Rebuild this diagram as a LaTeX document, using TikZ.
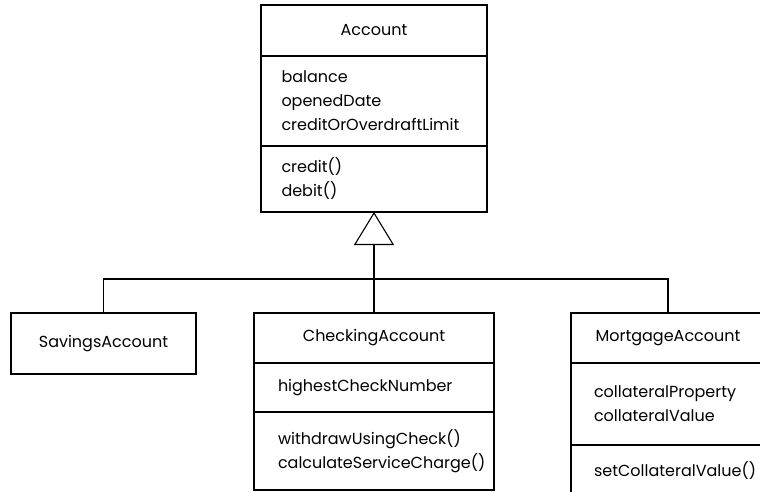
\documentclass[tikz,border=0pt]{standalone}
\usepackage{fontspec}
\setmainfont{Poppins}
\usetikzlibrary{arrows.meta,positioning}

\begin{document}
\begin{tikzpicture}[x=1pt,y=-1pt,line width=1.1pt,
	box/.style={draw, outer sep=0pt, anchor=north west, font=\fontsize{16}{24}\selectfont},
	cname/.style={box, align=center, inner xsep=0pt},
	cpart/.style={box, align=left}]
	\useasboundingbox (0,0) rectangle (760,492);
	\clip (0,0) rectangle (760,492);

	% base class
	\node[cname, text width=226pt, minimum height=51pt] (account) at (261,5) {Account};
	\node[cpart, text width=185pt, inner xsep=20.5pt, minimum height=90pt] (accountattr) at (account.south west) {balance\\openedDate\\creditOrOverdraftLimit};
	\node[cpart, text width=185pt, inner xsep=20.5pt, minimum height=66pt] (accountop) at (accountattr.south west) {credit()\\debit()};

	% subclasses
	\node[cname, text width=185pt, minimum height=61pt] (savings) at (11,313) {SavingsAccount};

	\node[cname, text width=240pt, minimum height=50pt] (checking) at (254,313) {CheckingAccount};
	\node[cpart, text width=192pt, inner xsep=24pt, minimum height=49pt] (checkingattr) at (checking.south west) {highestCheckNumber};
	\node[cpart, text width=192pt, inner xsep=24pt, minimum height=78pt] (checkingop) at (checkingattr.south west) {withdrawUsingCheck()\\calculateServiceCharge()};

	\node[cname, text width=194pt, minimum height=50pt] (mortgage) at (571,313) {MortgageAccount};
	\node[cpart, text width=148pt, inner xsep=23pt, minimum height=82pt] (mortgageattr) at (mortgage.south west) {collateralProperty\\collateralValue};
	\node[cpart, text width=148pt, inner xsep=23pt, minimum height=52pt] (mortgageop) at (mortgageattr.south west) {setCollateralValue()};

	% generalization
	\coordinate (bus) at (374,279);
	\draw[-{Triangle[open, length=33pt, width=40pt]}] (checking.north) -- (accountop.south);
	\draw (savings.north) |- (bus) -| (mortgage.north);
\end{tikzpicture}
\end{document}
